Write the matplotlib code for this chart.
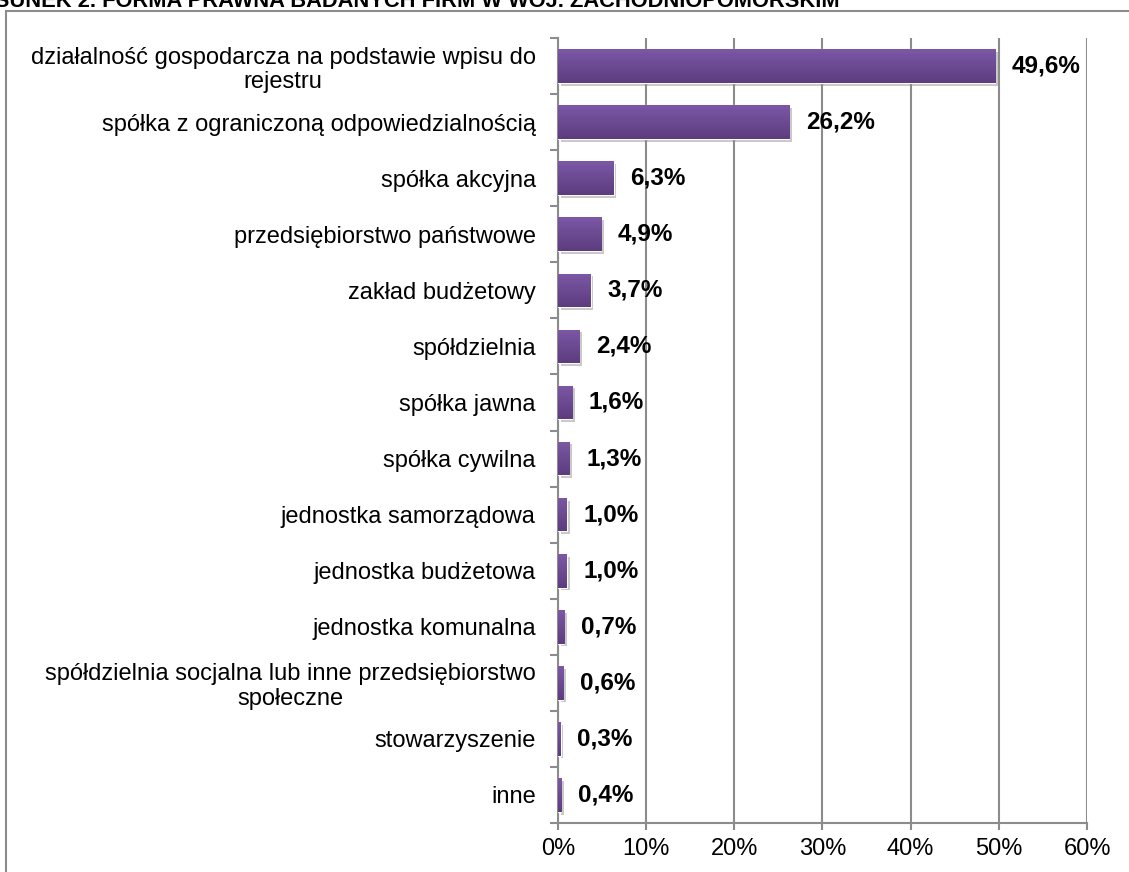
import matplotlib
matplotlib.use('Agg')
import matplotlib.pyplot as plt
import matplotlib.patheffects as pe
from matplotlib.colors import LinearSegmentedColormap
from matplotlib.patches import Rectangle
import numpy as np

plt.rcParams['font.family'] = ['Liberation Sans', 'DejaVu Sans']

categories = [
    'działalność gospodarcza na podstawie wpisu do\nrejestru',
    'spółka z ograniczoną odpowiedzialnością',
    'spółka akcyjna',
    'przedsiębiorstwo państwowe',
    'zakład budżetowy',
    'spółdzielnia',
    'spółka jawna',
    'spółka cywilna',
    'jednostka samorządowa',
    'jednostka budżetowa',
    'jednostka komunalna',
    'spółdzielnia socjalna lub inne przedsiębiorstwo\nspołeczne',
    'stowarzyszenie',
    'inne',
]
values = [49.6, 26.2, 6.3, 4.9, 3.7, 2.4, 1.6, 1.3, 1.0, 1.0, 0.7, 0.6, 0.3, 0.4]
xticks = [0, 10, 20, 30, 40, 50, 60]
title = 'RYSUNEK 2. FORMA PRAWNA BADANYCH FIRM W WOJ. ZACHODNIOPOMORSKIM'

fig = plt.figure(figsize=(11.29, 8.72), dpi=100)
ax = fig.add_axes([0.4942, 0.0562, 0.4686, 0.9002])

y = np.arange(len(categories))
bars = ax.barh(y, values, height=0.6, color='#6a4990', zorder=3,
               path_effects=[pe.SimplePatchShadow(offset=(2, -2), shadow_rgbFace='#888888', alpha=0.45),
                             pe.Normal()])

# gradient fill inside each bar
cmap = LinearSegmentedColormap.from_list('purp', ['#7d58a6', '#5c3c7e'])
grad = np.linspace(0, 1, 64).reshape(-1, 1)
for b in bars:
    x0, y0 = b.get_x(), b.get_y()
    w, h = b.get_width(), b.get_height()
    im = ax.imshow(grad, cmap=cmap, aspect='auto', extent=[x0, x0 + w, y0 + h, y0],
                   origin='upper', zorder=4)
    im.set_clip_path(b)
    b.set_edgecolor('white')
    b.set_linewidth(0.8)

for yi, v in zip(y, values):
    ax.annotate(f'{v:.1f}%'.replace('.', ','), (v, yi), xytext=(12, 0),
                textcoords='offset points', va='center', ha='left',
                fontsize=17.5, fontweight='bold', zorder=6)

ax.set_ylim(len(categories) - 0.5, -0.5)
ax.set_xlim(0, 60)
ax.set_xticks(xticks)
ax.set_xticklabels([f'{t}%' for t in xticks], fontsize=17)
ax.set_yticks(y)
ax.set_yticklabels(categories, fontsize=17, multialignment='center', linespacing=1.15)
ax.set_yticks(np.arange(len(categories) + 1) - 0.5, minor=True)
ax.tick_params(axis='y', which='major', length=0, pad=16)
ax.tick_params(axis='y', which='minor', length=6, color='#8c8c8c', width=1.5)
ax.tick_params(axis='x', length=5, color='#8c8c8c', width=1.5, pad=6)

ax.grid(axis='x', color='#8c8c8c', linewidth=1.5, zorder=0)
ax.set_axisbelow(True)
for s in ['top', 'right']:
    ax.spines[s].set_visible(False)
for s in ['left', 'bottom']:
    ax.spines[s].set_color('#8c8c8c')
    ax.spines[s].set_linewidth(1.5)

# outer frame
fig.patches.append(Rectangle((6 / 1129, -0.01), 1.0, 1 - 11 / 872 + 0.01,
                             transform=fig.transFigure, fill=False,
                             edgecolor='#8c8c8c', linewidth=1.5, zorder=0))

fig.text(840 / 1129, 1 - 7 / 872, title, ha='right', va='baseline',
         fontsize=15.75, fontweight='bold')

fig.savefig('out.png', dpi=100)
